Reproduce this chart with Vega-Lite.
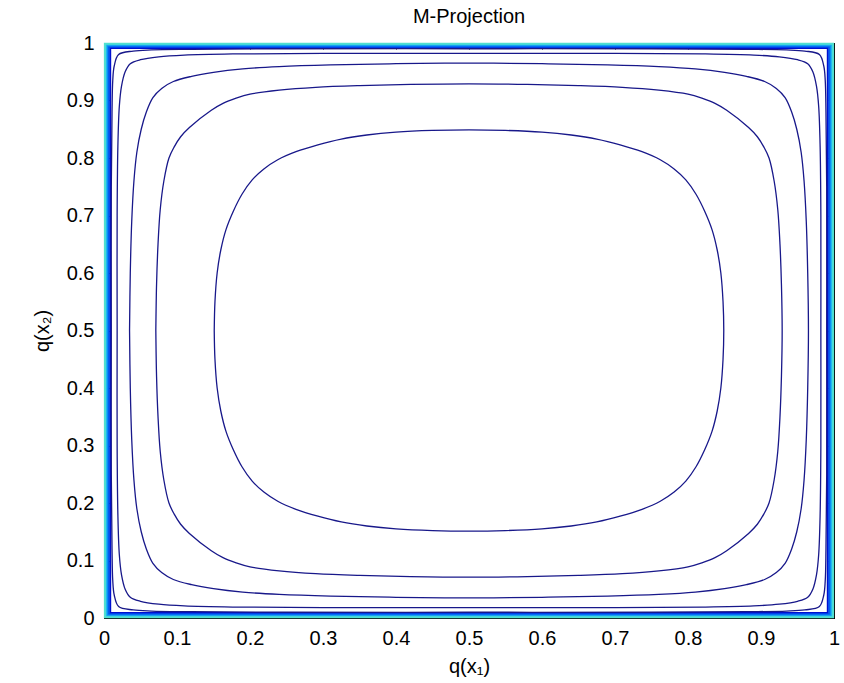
{
  "$schema": "https://vega.github.io/schema/vega-lite/v6.json",
  "width": 730,
  "height": 575,
  "autosize": {"type": "none"},
  "padding": {"left": 104, "top": 43, "right": 10, "bottom": 65},
  "background": "white",
  "title": {"text": "M-Projection", "fontSize": 20, "font": "Liberation Sans", "fontWeight": "normal", "color": "black", "baseline": "alphabetic", "offset": 18, "dy": 28},
  "config": {
    "view": {"stroke": "black", "strokeWidth": 1},
    "axis": {
      "grid": false, "tickSize": -6, "tickColor": "black", "domainColor": "black",
      "labelFont": "Liberation Sans", "labelFontSize": 20, "labelColor": "black", "labelPadding": 16,
      "labelFlush": false, "labelOverlap": false,
      "titleFont": "Liberation Sans", "titleFontSize": 20, "titleFontWeight": "normal", "titleColor": "black"
    }
  },
  "datasets": {
    "contours": [
      {"c":1,"i":1,"x":0.151,"y":0.5},{"c":1,"i":2,"x":0.152,"y":0.55},{"c":1,"i":3,"x":0.155,"y":0.6},{"c":1,"i":4,"x":0.16,"y":0.64},{"c":1,"i":5,"x":0.167,"y":0.675},{"c":1,"i":6,"x":0.177,"y":0.707},{"c":1,"i":7,"x":0.189,"y":0.737},{"c":1,"i":8,"x":0.203,"y":0.762},{"c":1,"i":9,"x":0.219,"y":0.781},{"c":1,"i":10,"x":0.238,"y":0.797},{"c":1,"i":11,"x":0.263,"y":0.811},{"c":1,"i":12,"x":0.293,"y":0.823},{"c":1,"i":13,"x":0.325,"y":0.833},{"c":1,"i":14,"x":0.36,"y":0.84},{"c":1,"i":15,"x":0.4,"y":0.845},{"c":1,"i":16,"x":0.45,"y":0.848},{"c":1,"i":17,"x":0.5,"y":0.849},
      {"c":1,"i":18,"x":0.55,"y":0.848},{"c":1,"i":19,"x":0.6,"y":0.845},{"c":1,"i":20,"x":0.64,"y":0.84},{"c":1,"i":21,"x":0.675,"y":0.833},{"c":1,"i":22,"x":0.707,"y":0.823},{"c":1,"i":23,"x":0.737,"y":0.811},{"c":1,"i":24,"x":0.762,"y":0.797},{"c":1,"i":25,"x":0.781,"y":0.781},{"c":1,"i":26,"x":0.797,"y":0.762},{"c":1,"i":27,"x":0.811,"y":0.737},{"c":1,"i":28,"x":0.823,"y":0.707},{"c":1,"i":29,"x":0.833,"y":0.675},{"c":1,"i":30,"x":0.84,"y":0.64},{"c":1,"i":31,"x":0.845,"y":0.6},{"c":1,"i":32,"x":0.848,"y":0.55},{"c":1,"i":33,"x":0.849,"y":0.5},
      {"c":1,"i":34,"x":0.848,"y":0.45},{"c":1,"i":35,"x":0.845,"y":0.4},{"c":1,"i":36,"x":0.84,"y":0.36},{"c":1,"i":37,"x":0.833,"y":0.325},{"c":1,"i":38,"x":0.823,"y":0.293},{"c":1,"i":39,"x":0.811,"y":0.263},{"c":1,"i":40,"x":0.797,"y":0.238},{"c":1,"i":41,"x":0.781,"y":0.219},{"c":1,"i":42,"x":0.762,"y":0.203},{"c":1,"i":43,"x":0.737,"y":0.189},{"c":1,"i":44,"x":0.707,"y":0.177},{"c":1,"i":45,"x":0.675,"y":0.167},{"c":1,"i":46,"x":0.64,"y":0.16},{"c":1,"i":47,"x":0.6,"y":0.155},{"c":1,"i":48,"x":0.55,"y":0.152},{"c":1,"i":49,"x":0.5,"y":0.151},
      {"c":1,"i":50,"x":0.45,"y":0.152},{"c":1,"i":51,"x":0.4,"y":0.155},{"c":1,"i":52,"x":0.36,"y":0.16},{"c":1,"i":53,"x":0.325,"y":0.167},{"c":1,"i":54,"x":0.293,"y":0.177},{"c":1,"i":55,"x":0.263,"y":0.189},{"c":1,"i":56,"x":0.238,"y":0.203},{"c":1,"i":57,"x":0.219,"y":0.219},{"c":1,"i":58,"x":0.203,"y":0.238},{"c":1,"i":59,"x":0.189,"y":0.263},{"c":1,"i":60,"x":0.177,"y":0.293},{"c":1,"i":61,"x":0.167,"y":0.325},{"c":1,"i":62,"x":0.16,"y":0.36},{"c":1,"i":63,"x":0.155,"y":0.4},{"c":1,"i":64,"x":0.152,"y":0.45},{"c":1,"i":65,"x":0.151,"y":0.5},

      {"c":2,"i":1,"x":0.071,"y":0.5},{"c":2,"i":2,"x":0.072,"y":0.58},{"c":2,"i":3,"x":0.074,"y":0.65},{"c":2,"i":4,"x":0.077,"y":0.71},{"c":2,"i":5,"x":0.082,"y":0.76},{"c":2,"i":6,"x":0.089,"y":0.8},{"c":2,"i":7,"x":0.096,"y":0.819},{"c":2,"i":8,"x":0.105,"y":0.837},{"c":2,"i":9,"x":0.117,"y":0.853},{"c":2,"i":11,"x":0.147,"y":0.883},{"c":2,"i":12,"x":0.163,"y":0.895},{"c":2,"i":13,"x":0.181,"y":0.904},{"c":2,"i":14,"x":0.2,"y":0.911},{"c":2,"i":15,"x":0.24,"y":0.918},{"c":2,"i":16,"x":0.29,"y":0.923},{"c":2,"i":17,"x":0.35,"y":0.926},{"c":2,"i":18,"x":0.42,"y":0.928},{"c":2,"i":19,"x":0.5,"y":0.929},
      {"c":2,"i":20,"x":0.58,"y":0.928},{"c":2,"i":21,"x":0.65,"y":0.926},{"c":2,"i":22,"x":0.71,"y":0.923},{"c":2,"i":23,"x":0.76,"y":0.918},{"c":2,"i":24,"x":0.8,"y":0.911},{"c":2,"i":25,"x":0.819,"y":0.904},{"c":2,"i":26,"x":0.837,"y":0.895},{"c":2,"i":27,"x":0.853,"y":0.883},{"c":2,"i":29,"x":0.883,"y":0.853},{"c":2,"i":30,"x":0.895,"y":0.837},{"c":2,"i":31,"x":0.904,"y":0.819},{"c":2,"i":32,"x":0.911,"y":0.8},{"c":2,"i":33,"x":0.918,"y":0.76},{"c":2,"i":34,"x":0.923,"y":0.71},{"c":2,"i":35,"x":0.926,"y":0.65},{"c":2,"i":36,"x":0.928,"y":0.58},{"c":2,"i":37,"x":0.929,"y":0.5},
      {"c":2,"i":38,"x":0.928,"y":0.42},{"c":2,"i":39,"x":0.926,"y":0.35},{"c":2,"i":40,"x":0.923,"y":0.29},{"c":2,"i":41,"x":0.918,"y":0.24},{"c":2,"i":42,"x":0.911,"y":0.2},{"c":2,"i":43,"x":0.904,"y":0.181},{"c":2,"i":44,"x":0.895,"y":0.163},{"c":2,"i":45,"x":0.883,"y":0.147},{"c":2,"i":47,"x":0.853,"y":0.117},{"c":2,"i":48,"x":0.837,"y":0.105},{"c":2,"i":49,"x":0.819,"y":0.096},{"c":2,"i":50,"x":0.8,"y":0.089},{"c":2,"i":51,"x":0.76,"y":0.082},{"c":2,"i":52,"x":0.71,"y":0.077},{"c":2,"i":53,"x":0.65,"y":0.074},{"c":2,"i":54,"x":0.58,"y":0.072},{"c":2,"i":55,"x":0.5,"y":0.071},
      {"c":2,"i":56,"x":0.42,"y":0.072},{"c":2,"i":57,"x":0.35,"y":0.074},{"c":2,"i":58,"x":0.29,"y":0.077},{"c":2,"i":59,"x":0.24,"y":0.082},{"c":2,"i":60,"x":0.2,"y":0.089},{"c":2,"i":61,"x":0.181,"y":0.096},{"c":2,"i":62,"x":0.163,"y":0.105},{"c":2,"i":63,"x":0.147,"y":0.117},{"c":2,"i":65,"x":0.117,"y":0.147},{"c":2,"i":66,"x":0.105,"y":0.163},{"c":2,"i":67,"x":0.096,"y":0.181},{"c":2,"i":68,"x":0.089,"y":0.2},{"c":2,"i":69,"x":0.082,"y":0.24},{"c":2,"i":70,"x":0.077,"y":0.29},{"c":2,"i":71,"x":0.074,"y":0.35},{"c":2,"i":72,"x":0.072,"y":0.42},{"c":2,"i":73,"x":0.071,"y":0.5},

      {"c":3,"i":1,"x":0.035,"y":0.5},{"c":3,"i":2,"x":0.036,"y":0.6},{"c":3,"i":3,"x":0.038,"y":0.69},{"c":3,"i":4,"x":0.041,"y":0.76},{"c":3,"i":5,"x":0.045,"y":0.81},{"c":3,"i":6,"x":0.051,"y":0.85},{"c":3,"i":7,"x":0.058,"y":0.88},{"c":3,"i":8,"x":0.067,"y":0.905},{"c":3,"i":9,"x":0.079,"y":0.921},{"c":3,"i":10,"x":0.095,"y":0.933},{"c":3,"i":11,"x":0.12,"y":0.942},{"c":3,"i":12,"x":0.15,"y":0.949},{"c":3,"i":13,"x":0.19,"y":0.955},{"c":3,"i":14,"x":0.24,"y":0.959},{"c":3,"i":15,"x":0.31,"y":0.962},{"c":3,"i":16,"x":0.4,"y":0.964},{"c":3,"i":17,"x":0.5,"y":0.965},
      {"c":3,"i":18,"x":0.6,"y":0.964},{"c":3,"i":19,"x":0.69,"y":0.962},{"c":3,"i":20,"x":0.76,"y":0.959},{"c":3,"i":21,"x":0.81,"y":0.955},{"c":3,"i":22,"x":0.85,"y":0.949},{"c":3,"i":23,"x":0.88,"y":0.942},{"c":3,"i":24,"x":0.905,"y":0.933},{"c":3,"i":25,"x":0.921,"y":0.921},{"c":3,"i":26,"x":0.933,"y":0.905},{"c":3,"i":27,"x":0.942,"y":0.88},{"c":3,"i":28,"x":0.949,"y":0.85},{"c":3,"i":29,"x":0.955,"y":0.81},{"c":3,"i":30,"x":0.959,"y":0.76},{"c":3,"i":31,"x":0.962,"y":0.69},{"c":3,"i":32,"x":0.964,"y":0.6},{"c":3,"i":33,"x":0.965,"y":0.5},
      {"c":3,"i":34,"x":0.964,"y":0.4},{"c":3,"i":35,"x":0.962,"y":0.31},{"c":3,"i":36,"x":0.959,"y":0.24},{"c":3,"i":37,"x":0.955,"y":0.19},{"c":3,"i":38,"x":0.949,"y":0.15},{"c":3,"i":39,"x":0.942,"y":0.12},{"c":3,"i":40,"x":0.933,"y":0.095},{"c":3,"i":41,"x":0.921,"y":0.079},{"c":3,"i":42,"x":0.905,"y":0.067},{"c":3,"i":43,"x":0.88,"y":0.058},{"c":3,"i":44,"x":0.85,"y":0.051},{"c":3,"i":45,"x":0.81,"y":0.045},{"c":3,"i":46,"x":0.76,"y":0.041},{"c":3,"i":47,"x":0.69,"y":0.038},{"c":3,"i":48,"x":0.6,"y":0.036},{"c":3,"i":49,"x":0.5,"y":0.035},
      {"c":3,"i":50,"x":0.4,"y":0.036},{"c":3,"i":51,"x":0.31,"y":0.038},{"c":3,"i":52,"x":0.24,"y":0.041},{"c":3,"i":53,"x":0.19,"y":0.045},{"c":3,"i":54,"x":0.15,"y":0.051},{"c":3,"i":55,"x":0.12,"y":0.058},{"c":3,"i":56,"x":0.095,"y":0.067},{"c":3,"i":57,"x":0.079,"y":0.079},{"c":3,"i":58,"x":0.067,"y":0.095},{"c":3,"i":59,"x":0.058,"y":0.12},{"c":3,"i":60,"x":0.051,"y":0.15},{"c":3,"i":61,"x":0.045,"y":0.19},{"c":3,"i":62,"x":0.041,"y":0.24},{"c":3,"i":63,"x":0.038,"y":0.31},{"c":3,"i":64,"x":0.036,"y":0.4},{"c":3,"i":65,"x":0.035,"y":0.5},

      {"c":4,"i":1,"x":0.018,"y":0.5},{"c":4,"i":2,"x":0.018,"y":0.7},{"c":4,"i":3,"x":0.019,"y":0.82},{"c":4,"i":4,"x":0.021,"y":0.89},{"c":4,"i":5,"x":0.024,"y":0.925},{"c":4,"i":6,"x":0.029,"y":0.95},{"c":4,"i":7,"x":0.036,"y":0.964},{"c":4,"i":8,"x":0.05,"y":0.971},{"c":4,"i":9,"x":0.075,"y":0.976},{"c":4,"i":10,"x":0.11,"y":0.979},{"c":4,"i":11,"x":0.18,"y":0.981},{"c":4,"i":12,"x":0.3,"y":0.982},{"c":4,"i":13,"x":0.5,"y":0.982},
      {"c":4,"i":14,"x":0.7,"y":0.982},{"c":4,"i":15,"x":0.82,"y":0.981},{"c":4,"i":16,"x":0.89,"y":0.979},{"c":4,"i":17,"x":0.925,"y":0.976},{"c":4,"i":18,"x":0.95,"y":0.971},{"c":4,"i":19,"x":0.964,"y":0.964},{"c":4,"i":20,"x":0.971,"y":0.95},{"c":4,"i":21,"x":0.976,"y":0.925},{"c":4,"i":22,"x":0.979,"y":0.89},{"c":4,"i":23,"x":0.981,"y":0.82},{"c":4,"i":24,"x":0.982,"y":0.7},{"c":4,"i":25,"x":0.982,"y":0.5},
      {"c":4,"i":26,"x":0.982,"y":0.3},{"c":4,"i":27,"x":0.981,"y":0.18},{"c":4,"i":28,"x":0.979,"y":0.11},{"c":4,"i":29,"x":0.976,"y":0.075},{"c":4,"i":30,"x":0.971,"y":0.05},{"c":4,"i":31,"x":0.964,"y":0.036},{"c":4,"i":32,"x":0.95,"y":0.029},{"c":4,"i":33,"x":0.925,"y":0.024},{"c":4,"i":34,"x":0.89,"y":0.021},{"c":4,"i":35,"x":0.82,"y":0.019},{"c":4,"i":36,"x":0.7,"y":0.018},{"c":4,"i":37,"x":0.5,"y":0.018},
      {"c":4,"i":38,"x":0.3,"y":0.018},{"c":4,"i":39,"x":0.18,"y":0.019},{"c":4,"i":40,"x":0.11,"y":0.021},{"c":4,"i":41,"x":0.075,"y":0.024},{"c":4,"i":42,"x":0.05,"y":0.029},{"c":4,"i":43,"x":0.036,"y":0.036},{"c":4,"i":44,"x":0.029,"y":0.05},{"c":4,"i":45,"x":0.024,"y":0.075},{"c":4,"i":46,"x":0.021,"y":0.11},{"c":4,"i":47,"x":0.019,"y":0.18},{"c":4,"i":48,"x":0.018,"y":0.3},{"c":4,"i":49,"x":0.018,"y":0.5},

      {"c":5,"i":1,"x":0.01,"y":0.5},{"c":5,"i":2,"x":0.01,"y":0.75},{"c":5,"i":3,"x":0.011,"y":0.88},{"c":5,"i":4,"x":0.012,"y":0.935},{"c":5,"i":5,"x":0.014,"y":0.96},{"c":5,"i":6,"x":0.02,"y":0.98},{"c":5,"i":7,"x":0.04,"y":0.986},{"c":5,"i":8,"x":0.065,"y":0.988},{"c":5,"i":9,"x":0.12,"y":0.989},{"c":5,"i":10,"x":0.25,"y":0.99},{"c":5,"i":11,"x":0.5,"y":0.99},
      {"c":5,"i":12,"x":0.75,"y":0.99},{"c":5,"i":13,"x":0.88,"y":0.989},{"c":5,"i":14,"x":0.935,"y":0.988},{"c":5,"i":15,"x":0.96,"y":0.986},{"c":5,"i":16,"x":0.98,"y":0.98},{"c":5,"i":17,"x":0.986,"y":0.96},{"c":5,"i":18,"x":0.988,"y":0.935},{"c":5,"i":19,"x":0.989,"y":0.88},{"c":5,"i":20,"x":0.99,"y":0.75},{"c":5,"i":21,"x":0.99,"y":0.5},
      {"c":5,"i":22,"x":0.99,"y":0.25},{"c":5,"i":23,"x":0.989,"y":0.12},{"c":5,"i":24,"x":0.988,"y":0.065},{"c":5,"i":25,"x":0.986,"y":0.04},{"c":5,"i":26,"x":0.98,"y":0.02},{"c":5,"i":27,"x":0.96,"y":0.014},{"c":5,"i":28,"x":0.935,"y":0.012},{"c":5,"i":29,"x":0.88,"y":0.011},{"c":5,"i":30,"x":0.75,"y":0.01},{"c":5,"i":31,"x":0.5,"y":0.01},
      {"c":5,"i":32,"x":0.25,"y":0.01},{"c":5,"i":33,"x":0.12,"y":0.011},{"c":5,"i":34,"x":0.065,"y":0.012},{"c":5,"i":35,"x":0.04,"y":0.014},{"c":5,"i":36,"x":0.02,"y":0.02},{"c":5,"i":37,"x":0.014,"y":0.04},{"c":5,"i":38,"x":0.012,"y":0.065},{"c":5,"i":39,"x":0.011,"y":0.12},{"c":5,"i":40,"x":0.01,"y":0.25},{"c":5,"i":41,"x":0.01,"y":0.5}
    ],
    "band": [
      {"b":1,"i":1,"x":0.0085,"y":0.5},{"b":1,"i":2,"x":0.0085,"y":0.9915},{"b":1,"i":3,"x":0.9915,"y":0.9915},{"b":1,"i":4,"x":0.9915,"y":0.0085},{"b":1,"i":5,"x":0.0085,"y":0.0085},{"b":1,"i":6,"x":0.0085,"y":0.5},
      {"b":2,"i":1,"x":0.0065,"y":0.5},{"b":2,"i":2,"x":0.0065,"y":0.9935},{"b":2,"i":3,"x":0.9935,"y":0.9935},{"b":2,"i":4,"x":0.9935,"y":0.0065},{"b":2,"i":5,"x":0.0065,"y":0.0065},{"b":2,"i":6,"x":0.0065,"y":0.5},
      {"b":3,"i":1,"x":0.0045,"y":0.5},{"b":3,"i":2,"x":0.0045,"y":0.9955},{"b":3,"i":3,"x":0.9955,"y":0.9955},{"b":3,"i":4,"x":0.9955,"y":0.0045},{"b":3,"i":5,"x":0.0045,"y":0.0045},{"b":3,"i":6,"x":0.0045,"y":0.5},
      {"b":4,"i":1,"x":0.0028,"y":0.5},{"b":4,"i":2,"x":0.0028,"y":0.9972},{"b":4,"i":3,"x":0.9972,"y":0.9972},{"b":4,"i":4,"x":0.9972,"y":0.0028},{"b":4,"i":5,"x":0.0028,"y":0.0028},{"b":4,"i":6,"x":0.0028,"y":0.5},
      {"b":5,"i":1,"x":0.0012,"y":0.5},{"b":5,"i":2,"x":0.0012,"y":0.9988},{"b":5,"i":3,"x":0.9988,"y":0.9988},{"b":5,"i":4,"x":0.9988,"y":0.0012},{"b":5,"i":5,"x":0.0012,"y":0.0012},{"b":5,"i":6,"x":0.0012,"y":0.5}
    ]
  },
  "layer": [
    {
      "data": {"name": "band"},
      "mark": {"type": "line", "strokeWidth": 2, "strokeJoin": "miter"},
      "encoding": {
        "x": {"field": "x", "type": "quantitative", "scale": {"domain": [0, 1], "nice": false, "zero": false},
              "axis": {"orient": "top", "values": [0,0.1,0.2,0.3,0.4,0.5,0.6,0.7,0.8,0.9,1], "labels": false, "title": null, "labelPadding": 0, "minExtent": 0, "maxExtent": 0}},
        "y": {"field": "y", "type": "quantitative", "scale": {"domain": [0, 1], "nice": false, "zero": false},
              "axis": {"orient": "right", "values": [0,0.1,0.2,0.3,0.4,0.5,0.6,0.7,0.8,0.9,1], "labels": false, "title": null, "labelPadding": 0, "minExtent": 0, "maxExtent": 0}},
        "color": {"field": "b", "type": "ordinal", "legend": null,
                  "scale": {"domain": [1, 2, 3, 4, 5], "range": ["#0010d0", "#0050f0", "#0a8af5", "#20b8f0", "#50e0d0"]}},
        "order": {"field": "i", "type": "quantitative"}
      }
    },
    {
      "data": {"name": "contours"},
      "mark": {"type": "line", "strokeWidth": 1.3, "color": "#18188a", "interpolate": "catmull-rom"},
      "encoding": {
        "x": {"field": "x", "type": "quantitative",
              "axis": {"orient": "bottom", "values": [0,0.1,0.2,0.3,0.4,0.5,0.6,0.7,0.8,0.9,1], "format": ".1~f", "title": "q(x₁)", "titlePadding": 8}},
        "y": {"field": "y", "type": "quantitative",
              "axis": {"orient": "left", "values": [0,0.1,0.2,0.3,0.4,0.5,0.6,0.7,0.8,0.9,1], "format": ".1~f", "title": "q(x₂)", "titlePadding": 14}},
        "detail": {"field": "c", "type": "nominal"},
        "order": {"field": "i", "type": "quantitative"}
      }
    }
  ],
  "resolve": {"axis": {"x": "independent", "y": "independent"}}
}
